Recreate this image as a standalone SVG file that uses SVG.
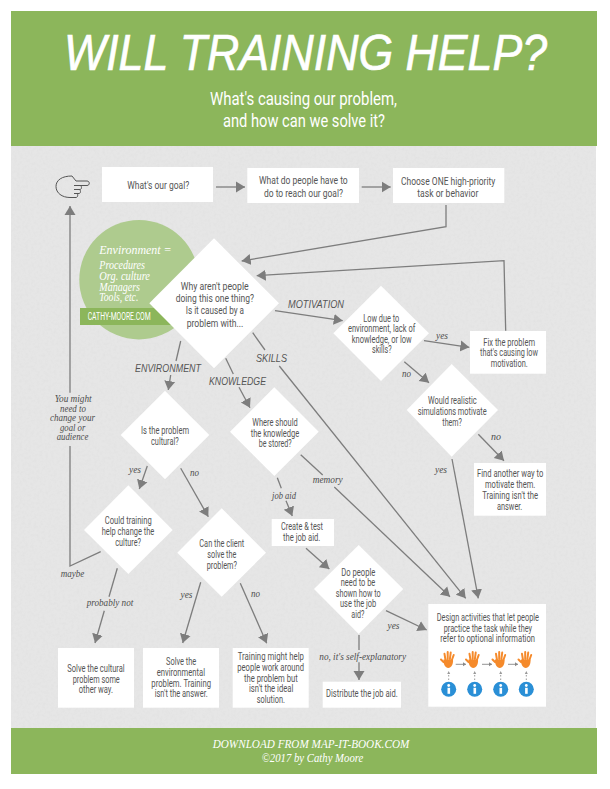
<svg xmlns="http://www.w3.org/2000/svg" xmlns:xlink="http://www.w3.org/1999/xlink" width="610" height="789" viewBox="0 0 610 789">
<style>
.n{fill:#fff}
text{font-family:"Liberation Sans Narrow","Roboto","Liberation Sans",sans-serif}
.t{font-size:11px;fill:#555}
.s{font-family:"Liberation Serif",serif;font-style:italic;font-size:10.5px;fill:#4d4d4d}
.c{font-family:"Liberation Sans",sans-serif;font-style:italic;font-size:10px;fill:#555}
.w{fill:#fff}
.e{font-family:"Liberation Serif",serif;font-style:italic;fill:#fff;font-size:11.500px}
.l{fill:none;stroke:#7d7d7d;stroke-width:1.3}
.a{marker-end:url(#h)}
.d{fill:none;stroke:#999;stroke-width:1;stroke-dasharray:1.5 2}
.m{fill:none;stroke:#888;stroke-width:.9}
</style>
<defs>
<filter id="paper" x="0" y="0" width="100%" height="100%"><feTurbulence type="fractalNoise" baseFrequency=".35" numOctaves="3" seed="4"/><feColorMatrix values="0 0 0 0 .5 0 0 0 0 .5 0 0 0 0 .5 .5 0 0 0 -.2"/></filter>
<marker id="h" markerUnits="userSpaceOnUse" markerWidth="10" markerHeight="13" refX="9" refY="6" orient="auto"><path d="M0 .5L9 6L0 11.5Z" fill="#7d7d7d"/></marker>
<marker id="g" markerUnits="userSpaceOnUse" markerWidth="4" markerHeight="5" refX="3" refY="2.5" orient="auto"><path d="M0 .5L3 2.5L0 4.500Z" fill="#888"/></marker>
<g id="hand">
<path d="M-5 2L-7.500 -.5M-3 0L-4 -6.200M-.8 -1L-.8 -8M1.400 -1L2.200 -7.400M3.200 .5L5.200 -5" fill="none" stroke="#f58a2b" stroke-width="2" stroke-linecap="round"/>
<path d="M-5 -.5C-5.500 4 -3 8 -.3 8C2.700 8 5 4 4.500 -.5Z" fill="#f58a2b"/>
</g>
<g id="info">
<circle r="7.5" fill="#2a8fd6"/>
<rect x="-1.200" y="-1.500" width="2.600" height="6" fill="#fff"/>
<circle cy="-3.800" r="1.400" fill="#fff"/>
</g>
</defs>
<rect width="610" height="789" fill="#fff"/>
<g id="panel"><rect x="11" y="146" width="585" height="582" fill="#e6e6e6"/><rect x="11" y="146" width="585" height="582" filter="url(#paper)" opacity=".35"/></g>
<g id="header">
<rect x="11" y="11" width="586" height="135" fill="#8cb65b"/>
<text x="64" y="70" class="w" stroke="#fff" stroke-width=".7" style="font-family:'Liberation Sans',sans-serif;font-style:italic;font-size:50px" textLength="483" lengthAdjust="spacingAndGlyphs">WILL TRAINING HELP?</text>
<text x="210" y="105" class="w" font-size="19" textLength="187" lengthAdjust="spacingAndGlyphs">What's causing our problem,</text>
<text x="223" y="127" class="w" font-size="19" textLength="162" lengthAdjust="spacingAndGlyphs">and how can we solve it?</text>
</g>
<g id="footer">
<rect x="11" y="728" width="586" height="46" fill="#8cb65b"/>
<text x="212.700" y="747.700" class="e" textLength="196.600" lengthAdjust="spacingAndGlyphs">DOWNLOAD FROM MAP-IT-BOOK.COM</text>
<text x="261.700" y="761.700" class="e" textLength="101.600" lengthAdjust="spacingAndGlyphs">©2017 by Cathy Moore</text>
</g>
<g id="environment-note">
<circle cx="139" cy="279.700" r="59.700" fill="#aecb8e"/>
<rect x="80" y="308" width="95" height="17" fill="#8cb65b"/>
<text x="99.300" y="254" class="e" font-size="13" textLength="72.400" lengthAdjust="spacingAndGlyphs">Environment =</text>
<text x="99.300" y="268.700" class="e" textLength="45.700" lengthAdjust="spacingAndGlyphs">Procedures</text>
<text x="99.300" y="279.700" class="e" textLength="50.700" lengthAdjust="spacingAndGlyphs">Org. culture</text>
<text x="99.300" y="290.700" class="e" textLength="40.700" lengthAdjust="spacingAndGlyphs">Managers</text>
<text x="99.300" y="301" class="e" textLength="39" lengthAdjust="spacingAndGlyphs">Tools, etc.</text>
<text x="87.700" y="320.300" class="w" font-size="11" textLength="63" lengthAdjust="spacingAndGlyphs">CATHY-MOORE.COM</text>
</g>
<g id="start-hand"><path d="M72 176C62 176 56 180 56 186.500C56 193 62 197.500 70 197.500H76C78 197.500 78.500 193.500 76.500 193.500H74M74 193.500H79C81 193.500 81 189.500 79 189.500H74M74 189.500H80C82 189.500 82 185.500 80 185.500H74M74 185.500H87C90 185.500 90 181 87 181H76L72 176" fill="none" stroke="#555" stroke-width="1"/></g>
<g id="connectors">
<path class="l a" d="M216 187H245"/>
<path class="l a" d="M361.700 187H390.700"/>
<path class="l a" d="M446 205V226.700L241.700 261"/>
<path class="l a" d="M505.700 330.700L504 260.700L256.700 275.700"/>
<path class="l a" d="M275 310.700L342.700 320.700"/>
<path class="l a" d="M424 340.700L469.300 347.300"/>
<path class="l a" d="M404.300 361.700L429 382.700"/>
<path class="l a" d="M478.300 434.300L504 460.700"/>
<path class="l a" d="M452 459L478.300 598.300"/>
<path class="l" d="M252.700 332.700L265 350"/>
<path class="l a" d="M279.300 366L465.700 598.300"/>
<path class="l" d="M225.700 358.300L233.300 374"/>
<path class="l a" d="M239 387.300L250 407.700"/>
<path class="l" d="M180.700 341L176 361"/>
<path class="l a" d="M170.700 375L168.300 390"/>
<path class="l a" d="M147.300 466L139.300 489"/>
<path class="l a" d="M180.700 468.300L208.300 516.700"/>
<path class="l" d="M300.700 454.700L322.700 475"/>
<path class="l a" d="M334.300 487L450 596.700"/>
<path class="l" d="M277.300 477.700L281.300 488.300"/>
<path class="l a" d="M286 500.700L292.300 516"/>
<path class="l a" d="M306 548.300L329.300 569"/>
<path class="l a" d="M386 610.700L426.700 630"/>
<path class="l" d="M359 635V650"/>
<path class="l a" d="M359 662.300V680"/>
<path class="l" d="M117.300 568.300L109 596.700"/>
<path class="l a" d="M104.300 610.700L95 643"/>
<path class="l a" d="M200.700 582.300L182.700 643"/>
<path class="l a" d="M240.300 583.300L266.700 643.300"/>
<path class="l a" d="M70 392.700V206"/>
<path class="l" d="M100.700 551.700L70 566V446"/>
</g>
<g id="goal"><rect class="n" x="102" y="167" width="111" height="35"/><text class="t" x="127.300" y="189" textLength="62" lengthAdjust="spacingAndGlyphs">What's our goal?</text></g>
<g id="do-to-reach"><rect class="n" x="247.300" y="168" width="111.700" height="35"/><text class="t" x="259" y="184.300" textLength="88.700" lengthAdjust="spacingAndGlyphs">What do people have to</text><text class="t" x="264" y="196.700" textLength="79" lengthAdjust="spacingAndGlyphs">do to reach our goal?</text></g>
<g id="choose-one"><rect class="n" x="393" y="168" width="111.300" height="35"/><text class="t" x="401" y="185" textLength="94.300" lengthAdjust="spacingAndGlyphs">Choose ONE high-priority</text><text class="t" x="417.300" y="197.300" textLength="61" lengthAdjust="spacingAndGlyphs">task or behavior</text></g>
<g id="why"><polygon class="n" points="214,238.300 279,303.300 214,368.300 149.300,303.300"/><text class="t" x="180.700" y="290" textLength="68" lengthAdjust="spacingAndGlyphs">Why aren't people</text><text class="t" x="175.700" y="302" textLength="78.300" lengthAdjust="spacingAndGlyphs">doing this one thing?</text><text class="t" x="185.700" y="314.300" textLength="58.300" lengthAdjust="spacingAndGlyphs">Is it caused by a</text><text class="t" x="186.700" y="326.700" textLength="56.600" lengthAdjust="spacingAndGlyphs">problem with...</text></g>
<g id="low-due"><polygon class="n" points="381,285.700 429,333.300 381,381 333.300,333.300"/><text class="t" x="363.300" y="321.700" textLength="36" lengthAdjust="spacingAndGlyphs">Low due to</text><text class="t" x="348" y="332.300" textLength="67.300" lengthAdjust="spacingAndGlyphs">environment, lack of</text><text class="t" x="351.700" y="343" textLength="60" lengthAdjust="spacingAndGlyphs">knowledge, or low</text><text class="t" x="372" y="353.300" textLength="19.700" lengthAdjust="spacingAndGlyphs">skills?</text></g>
<g id="fix"><rect class="n" x="470" y="331" width="76" height="42.700"/><text class="t" x="483.300" y="345.700" textLength="51.700" lengthAdjust="spacingAndGlyphs">Fix the problem</text><text class="t" x="480" y="356" textLength="58" lengthAdjust="spacingAndGlyphs">that's causing low</text><text class="t" x="490.700" y="366.700" textLength="37" lengthAdjust="spacingAndGlyphs">motivation.</text></g>
<g id="would"><polygon class="n" points="451.700,364 498,410 451.700,456.700 406.700,410"/><text class="t" x="428" y="404.300" textLength="48.700" lengthAdjust="spacingAndGlyphs">Would realistic</text><text class="t" x="417.700" y="415.300" textLength="69" lengthAdjust="spacingAndGlyphs">simulations motivate</text><text class="t" x="442.300" y="426" textLength="19.700" lengthAdjust="spacingAndGlyphs">them?</text></g>
<g id="find"><rect class="n" x="474" y="463" width="72" height="52.700"/><text class="t" x="477" y="477.300" textLength="66.300" lengthAdjust="spacingAndGlyphs">Find another way to</text><text class="t" x="485" y="488" textLength="50.300" lengthAdjust="spacingAndGlyphs">motivate them.</text><text class="t" x="482.300" y="499" textLength="55.700" lengthAdjust="spacingAndGlyphs">Training isn't the</text><text class="t" x="497" y="509.700" textLength="25.300" lengthAdjust="spacingAndGlyphs">answer.</text></g>
<g id="cultural"><polygon class="n" points="165,390.700 209.300,435 165,479.300 120.700,435"/><text class="t" x="141" y="434" textLength="48" lengthAdjust="spacingAndGlyphs">Is the problem</text><text class="t" x="151" y="444.700" textLength="27.700" lengthAdjust="spacingAndGlyphs">cultural?</text></g>
<g id="where"><polygon class="n" points="274.300,387.300 318.700,431.700 274.300,476 230,431.700"/><text class="t" x="252.300" y="425.700" textLength="45.400" lengthAdjust="spacingAndGlyphs">Where should</text><text class="t" x="250.700" y="436.700" textLength="48.600" lengthAdjust="spacingAndGlyphs">the knowledge</text><text class="t" x="258.700" y="447.300" textLength="33" lengthAdjust="spacingAndGlyphs">be stored?</text></g>
<g id="could"><polygon class="n" points="128.300,485.300 172.700,530 128.300,574 84,530"/><text class="t" x="104.700" y="524.300" textLength="47" lengthAdjust="spacingAndGlyphs">Could training</text><text class="t" x="101.700" y="535.300" textLength="52.600" lengthAdjust="spacingAndGlyphs">help change the</text><text class="t" x="115.300" y="545.700" textLength="25.700" lengthAdjust="spacingAndGlyphs">culture?</text></g>
<g id="client"><polygon class="n" points="221.700,508.300 266,552.700 221.700,596.700 177.300,552.700"/><text class="t" x="199.300" y="546.700" textLength="45" lengthAdjust="spacingAndGlyphs">Can the client</text><text class="t" x="207.300" y="557.700" textLength="29" lengthAdjust="spacingAndGlyphs">solve the</text><text class="t" x="206.700" y="568.700" textLength="30.300" lengthAdjust="spacingAndGlyphs">problem?</text></g>
<g id="create"><rect class="n" x="271.700" y="519" width="62.300" height="27"/><text class="t" x="281" y="530" textLength="42" lengthAdjust="spacingAndGlyphs">Create &amp; test</text><text class="t" x="283" y="540.700" textLength="37.300" lengthAdjust="spacingAndGlyphs">the job aid.</text></g>
<g id="do-people"><polygon class="n" points="358.700,545 403.300,589 358.700,634 314,589"/><text class="t" x="341.300" y="575.700" textLength="34" lengthAdjust="spacingAndGlyphs">Do people</text><text class="t" x="340.700" y="586" textLength="34.600" lengthAdjust="spacingAndGlyphs">need to be</text><text class="t" x="335.700" y="596.700" textLength="45" lengthAdjust="spacingAndGlyphs">shown how to</text><text class="t" x="340" y="607.300" textLength="36.300" lengthAdjust="spacingAndGlyphs">use the job</text><text class="t" x="351.300" y="617.700" textLength="13" lengthAdjust="spacingAndGlyphs">aid?</text></g>
<g id="distribute"><rect class="n" x="322.700" y="681.700" width="78.300" height="26"/><text class="t" x="326" y="697" textLength="71.700" lengthAdjust="spacingAndGlyphs">Distribute the job aid.</text></g>
<g id="design"><rect class="n" x="428.300" y="604" width="117.700" height="102.700"/><text class="t" x="436.700" y="621" textLength="102.300" lengthAdjust="spacingAndGlyphs">Design activities that let people</text><text class="t" x="443.700" y="631.700" textLength="88.300" lengthAdjust="spacingAndGlyphs">practice the task while they</text><text class="t" x="440.300" y="642.300" textLength="94.700" lengthAdjust="spacingAndGlyphs">refer to optional information</text>
<use xlink:href="#hand" href="#hand" x="448.500" y="660"/><use xlink:href="#hand" href="#hand" x="473.500" y="660"/><use xlink:href="#hand" href="#hand" x="500" y="660"/><use xlink:href="#hand" href="#hand" x="526" y="660"/>
<use xlink:href="#info" href="#info" x="448.700" y="689.300"/><use xlink:href="#info" href="#info" x="474.700" y="689.300"/><use xlink:href="#info" href="#info" x="500.700" y="689.300"/><use xlink:href="#info" href="#info" x="526.300" y="689.300"/>
<path class="m" marker-end="url(#g)" d="M455.700 664.300H466"/><path class="m" marker-end="url(#g)" d="M482 664.300H492"/><path class="m" marker-end="url(#g)" d="M508 664.300H518"/>
<path class="d" d="M448.700 680V673M474.700 680V673M500.700 680V673M526.300 680V673"/>
<path d="M447.200 674L448.700 671L450.200 674ZM473.200 674L474.700 671L476.200 674ZM499.200 674L500.700 671L502.200 674ZM524.800 674L526.300 671L527.800 674Z" fill="#999"/></g>
<g id="solve-cultural"><rect class="n" x="58" y="648" width="76" height="59.700"/><text class="t" x="67.300" y="672.300" textLength="57.400" lengthAdjust="spacingAndGlyphs">Solve the cultural</text><text class="t" x="72.700" y="682.700" textLength="47" lengthAdjust="spacingAndGlyphs">problem some</text><text class="t" x="78.700" y="693.300" textLength="34.300" lengthAdjust="spacingAndGlyphs">other way.</text></g>
<g id="solve-env"><rect class="n" x="143" y="648" width="76" height="59.700"/><text class="t" x="166" y="665.300" textLength="30.300" lengthAdjust="spacingAndGlyphs">Solve the</text><text class="t" x="156.700" y="676" textLength="48.300" lengthAdjust="spacingAndGlyphs">environmental</text><text class="t" x="151.300" y="687" textLength="59.700" lengthAdjust="spacingAndGlyphs">problem. Training</text><text class="t" x="154.700" y="697.300" textLength="53" lengthAdjust="spacingAndGlyphs">isn't the answer.</text></g>
<g id="training-might"><rect class="n" x="232.700" y="648" width="76" height="59.700"/><text class="t" x="237.700" y="660.300" textLength="66.300" lengthAdjust="spacingAndGlyphs">Training might help</text><text class="t" x="237.300" y="671.300" textLength="66.700" lengthAdjust="spacingAndGlyphs">people work around</text><text class="t" x="244" y="681.700" textLength="53.700" lengthAdjust="spacingAndGlyphs">the problem but</text><text class="t" x="249" y="692.300" textLength="44.300" lengthAdjust="spacingAndGlyphs">isn't the ideal</text><text class="t" x="256.700" y="702.700" textLength="28.300" lengthAdjust="spacingAndGlyphs">solution.</text></g>
<g id="labels">
<text class="c" x="288" y="307.500" textLength="56" lengthAdjust="spacingAndGlyphs">MOTIVATION</text>
<text class="c" x="256" y="361.500" textLength="31" lengthAdjust="spacingAndGlyphs">SKILLS</text>
<text class="c" x="209" y="384.500" textLength="57" lengthAdjust="spacingAndGlyphs">KNOWLEDGE</text>
<text class="c" x="135" y="371.500" textLength="66" lengthAdjust="spacingAndGlyphs">ENVIRONMENT</text>
<text class="s" x="436" y="339" textLength="12" lengthAdjust="spacingAndGlyphs">yes</text>
<text class="s" x="402" y="377" textLength="9" lengthAdjust="spacingAndGlyphs">no</text>
<text class="s" x="491" y="440" textLength="10" lengthAdjust="spacingAndGlyphs">no</text>
<text class="s" x="435" y="473" textLength="12" lengthAdjust="spacingAndGlyphs">yes</text>
<text class="s" x="129" y="473" textLength="12" lengthAdjust="spacingAndGlyphs">yes</text>
<text class="s" x="190" y="476" textLength="9" lengthAdjust="spacingAndGlyphs">no</text>
<text class="s" x="312.700" y="483" textLength="30" lengthAdjust="spacingAndGlyphs">memory</text>
<text class="s" x="272" y="498.500" textLength="24" lengthAdjust="spacingAndGlyphs">job aid</text>
<text class="s" x="387.500" y="629" textLength="12" lengthAdjust="spacingAndGlyphs">yes</text>
<text class="s" x="319.300" y="660" textLength="86.700" lengthAdjust="spacingAndGlyphs">no, it's self-explanatory</text>
<text class="s" x="60.700" y="577" textLength="23.600" lengthAdjust="spacingAndGlyphs">maybe</text>
<text class="s" x="86.700" y="606" textLength="46.600" lengthAdjust="spacingAndGlyphs">probably not</text>
<text class="s" x="180.500" y="598" textLength="12" lengthAdjust="spacingAndGlyphs">yes</text>
<text class="s" x="251" y="597" textLength="9" lengthAdjust="spacingAndGlyphs">no</text>
<text class="s" x="54.700" y="402" textLength="37" lengthAdjust="spacingAndGlyphs">You might</text>
<text class="s" x="60" y="411.700" textLength="26" lengthAdjust="spacingAndGlyphs">need to</text>
<text class="s" x="50" y="421.300" textLength="45" lengthAdjust="spacingAndGlyphs">change your</text>
<text class="s" x="60" y="430.700" textLength="25.300" lengthAdjust="spacingAndGlyphs">goal or</text>
<text class="s" x="56.700" y="439.700" textLength="31.600" lengthAdjust="spacingAndGlyphs">audience</text>
</g>
</svg>
